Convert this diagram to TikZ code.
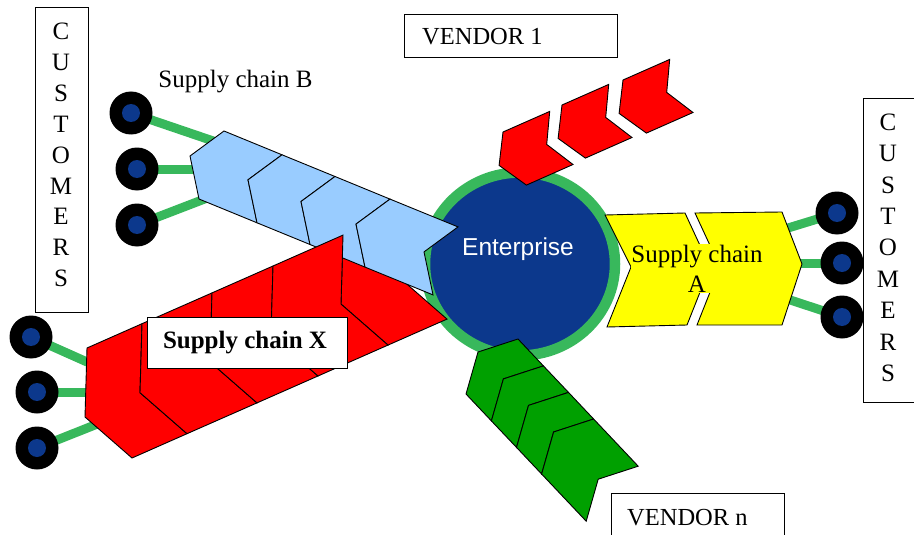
\documentclass[tikz,border=0pt]{standalone}
\usepackage{fontspec}
\setmainfont{Liberation Serif}
\newfontfamily\entfont{Liberation Sans}
\usetikzlibrary{shapes.geometric,backgrounds}

\definecolor{linkgreen}{RGB}{56,184,92}
\definecolor{corebl}{RGB}{12,56,140}
\definecolor{chainblue}{RGB}{153,204,255}
\definecolor{chainred}{RGB}{255,0,0}
\definecolor{chainyellow}{RGB}{255,255,0}
\definecolor{chaingreen}{RGB}{0,160,0}

\begin{document}
\begin{tikzpicture}[x=1pt,y=-1pt,
  chev/.style={draw=black, line width=0.9pt, line join=miter},
  link/.style={draw=linkgreen, line width=9pt},
  cust/.style={circle, fill=black, minimum size=43pt, inner sep=0pt,
    path picture={\fill[corebl] (path picture bounding box.center) circle[radius=9pt];}},
  labelbox/.style={draw=black, line width=0.9pt, fill=white, inner sep=0pt},
  lbl/.style={font=\fontsize{25}{30}\selectfont, inner sep=0pt, anchor=base},
  vlbl/.style={font=\fontsize{24.5}{30}\selectfont, inner sep=0pt, anchor=base west}]

\useasboundingbox (0,0) rectangle (914,535);
\clip (0,0) rectangle (914,535);

% the enterprise hub
\node[ellipse, fill=corebl, draw=linkgreen, line width=10.5pt,
      minimum width=190pt, minimum height=183pt, inner sep=0pt] (ent) at (520,264) {};

% supply chain X: innermost link, lying under chain B
\filldraw[chev, fill=chainred] (343,235.1) -- (402,209.1) -- (400,278.1) -- (447,319.1) -- (388,345.1) -- (341,304.1) -- cycle;

% supply chain B (light blue, pointing to the customers)
\filldraw[chev, fill=chainblue] (224,131) -- (282,154.8) -- (248,179.8) -- (257,222.8) -- (199,199) -- (190,156) -- cycle;
\filldraw[chev, fill=chainblue] (282,154.8) -- (335,176.5) -- (301,201.5) -- (310,244.5) -- (257,222.8) -- (248,179.8) -- cycle;
\filldraw[chev, fill=chainblue] (335,176.5) -- (390,199.1) -- (356,224.1) -- (365,267.1) -- (310,244.5) -- (301,201.5) -- cycle;
\filldraw[chev, fill=chainblue] (390,199.1) -- (458,226.9) -- (424,251.9) -- (433,294.9) -- (365,267.1) -- (356,224.1) -- cycle;

% supply chain X: outer links
\filldraw[chev, fill=chainred] (87,348) -- (142,323.7) -- (140,392.7) -- (187,433.7) -- (132,458) -- (85,417) -- cycle;
\filldraw[chev, fill=chainred] (142,323.7) -- (212,292.9) -- (210,361.9) -- (257,402.9) -- (187,433.7) -- (140,392.7) -- cycle;
\filldraw[chev, fill=chainred] (212,292.9) -- (273,266) -- (271,335) -- (318,376) -- (257,402.9) -- (210,361.9) -- cycle;
\filldraw[chev, fill=chainred] (273,266) -- (343,235.1) -- (341,304.1) -- (388,345.1) -- (318,376) -- (271,335) -- cycle;

\node[labelbox, minimum width=200pt, minimum height=51pt] (scXbox) at (247,342.5) {};
\node[lbl, font=\fontsize{25}{30}\selectfont\bfseries] (scX) at (245,348.3) {Supply chain X};

% inbound chain from vendor 1
\foreach \ox/\oy in {503/132, 562/105, 623/80}
  \filldraw[chev, fill=chainred, shift={(\ox,\oy)}]
    (0,0) -- (46.7,-20.6) -- (43.7,12.4) -- (70,32.5) -- (23.4,53.1) -- (-3.9,33.4) -- cycle;

% inbound chain from vendor n
\filldraw[chev, fill=chaingreen] (518,339) -- (543.4,365.9) -- (503.4,378.9) -- (491.4,420.9) -- (466,394) -- (478,352) -- cycle;
\filldraw[chev, fill=chaingreen] (543.4,365.9) -- (568.5,392.4) -- (528.5,405.4) -- (516.5,447.4) -- (491.4,420.9) -- (503.4,378.9) -- cycle;
\filldraw[chev, fill=chaingreen] (568.5,392.4) -- (593.6,419) -- (553.6,432) -- (541.6,474) -- (516.5,447.4) -- (528.5,405.4) -- cycle;
\filldraw[chev, fill=chaingreen] (593.6,419) -- (638.2,466.2) -- (598.2,479.2) -- (586.2,521.2) -- (541.6,474) -- (553.6,432) -- cycle;

% supply chain A (yellow, pointing to the customers)
\filldraw[chev, fill=chainyellow] (605,215) -- (685,213) -- (710,267) -- (687,325) -- (607,327) -- (631,267) -- cycle;
\filldraw[chev, fill=chainyellow] (695,213) -- (782,212) -- (802,264) -- (782,325) -- (697,325) -- (720,267) -- cycle;
\node[font=\fontsize{25}{30}\selectfont, fill=chainyellow, inner sep=0.5pt, align=center, anchor=north]
  (scA) at (697,244.2) {Supply chain\\A};

\node[lbl, font=\entfont\fontsize{24.5}{29}\selectfont, text=white] (entlabel) at (518,255) {Enterprise};

% customers
\node[cust] (cL1) at (131,113) {};
\node[cust] (cL2) at (137,169) {};
\node[cust] (cL3) at (137,225) {};
\node[cust] (cX1) at (31,337) {};
\node[cust] (cX2) at (37,392) {};
\node[cust] (cX3) at (37,448) {};
\node[cust] (cR1) at (837,213) {};
\node[cust] (cR2) at (842,263) {};
\node[cust] (cR3) at (842,317) {};

% link ends hidden inside the chains
\coordinate (eB1) at (225,145);
\coordinate (eB2) at (205,169);
\coordinate (eB3) at (215,195);
\coordinate (eX1) at (105,370);
\coordinate (eX2) at (105,392);
\coordinate (eX3) at (115,417);
\coordinate (eA1) at (775,232);
\coordinate (eA2) at (785,263);
\coordinate (eA3) at (775,295);

\begin{pgfonlayer}{background}
  \draw[link] (cL1.center) -- (eB1);
  \draw[link] (cL2.center) -- (eB2);
  \draw[link] (cL3.center) -- (eB3);
  \draw[link] (cX1.center) -- (eX1);
  \draw[link] (cX2.center) -- (eX2);
  \draw[link] (cX3.center) -- (eX3);
  \draw[link] (cR1.center) -- (eA1);
  \draw[link] (cR2.center) -- (eA2);
  \draw[link] (cR3.center) -- (eA3);
\end{pgfonlayer}

% labels and boxes
\node[lbl] (scB) at (235.5,88) {Supply chain B};

\node[labelbox, minimum width=53pt, minimum height=305pt] (custLbox) at (61.5,159.5) {};
\foreach \ch [count=\k] in {C,U,S,T,O,M,E,R,S}
  \node[lbl] (custL\k) at (61,{40+30.8*(\k-1)}) {\ch};

\node[labelbox, minimum width=72pt, minimum height=304pt] (custRbox) at (899,250) {};
\foreach \ch [count=\k] in {C,U,S,T,O,M,E,R,S}
  \node[lbl] (custR\k) at (888,{130.3+31.4*(\k-1)}) {\ch};

\node[labelbox, minimum width=213pt, minimum height=43pt] (vend1box) at (510.5,35.5) {};
\node[vlbl] (vend1) at (422,45) {VENDOR 1};

\node[labelbox, minimum width=173pt, minimum height=57pt] (vendnbox) at (697.5,521.5) {};
\node[vlbl] (vendn) at (627,525) {VENDOR n};

\end{tikzpicture}
\end{document}
